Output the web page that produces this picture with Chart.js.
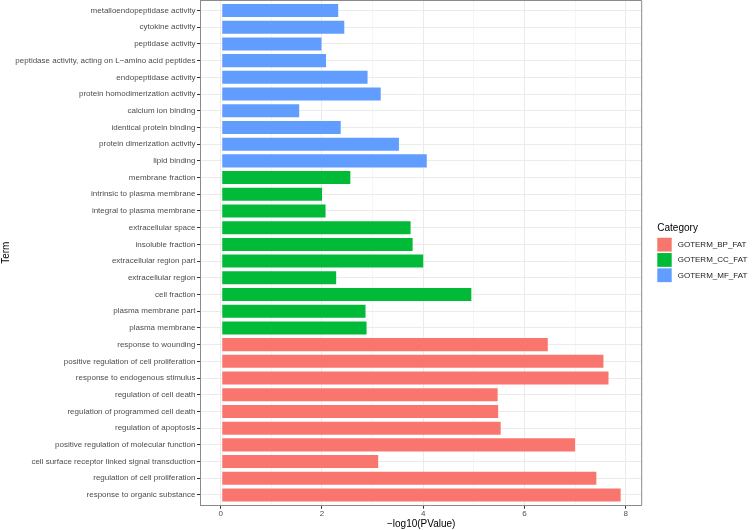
<!DOCTYPE html>
<html>
<head>
<meta charset="utf-8">
<script src="https://cdn.jsdelivr.net/npm/chart.js@4"></script>
<style>
  body { margin: 0; background: #fff; }
  #wrap { width: 753px; height: 530px; position: relative; }
</style>
</head>
<body>
<div id="wrap"><canvas id="goChart"></canvas></div>
<script>
"use strict";

// Terms, listed top to bottom as they appear on the plot
const terms = [
    'metalloendopeptidase activity',
    'cytokine activity',
    'peptidase activity',
    'peptidase activity, acting on L\u2212amino acid peptides',
    'endopeptidase activity',
    'protein homodimerization activity',
    'calcium ion binding',
    'identical protein binding',
    'protein dimerization activity',
    'lipid binding',
    'membrane fraction',
    'intrinsic to plasma membrane',
    'integral to plasma membrane',
    'extracellular space',
    'insoluble fraction',
    'extracellular region part',
    'extracellular region',
    'cell fraction',
    'plasma membrane part',
    'plasma membrane',
    'response to wounding',
    'positive regulation of cell proliferation',
    'response to endogenous stimulus',
    'regulation of cell death',
    'regulation of programmed cell death',
    'regulation of apoptosis',
    'positive regulation of molecular function',
    'cell surface receptor linked signal transduction',
    'regulation of cell proliferation',
    'response to organic substance'
];

// -log10(PValue) for each term
const pValues = [
    2.34, 2.46, 2.01, 2.10, 2.92, 3.18, 1.57, 2.39, 3.54, 4.09,
    2.58, 2.02, 2.09, 3.77, 3.81, 4.02, 2.30, 4.97, 2.88, 2.90,
    6.48, 7.58, 7.68, 5.49, 5.50, 5.55, 7.02, 3.13, 7.44, 7.92
];

// Category of each term
const termCategory = [
    'GOTERM_MF_FAT', 'GOTERM_MF_FAT', 'GOTERM_MF_FAT', 'GOTERM_MF_FAT', 'GOTERM_MF_FAT',
    'GOTERM_MF_FAT', 'GOTERM_MF_FAT', 'GOTERM_MF_FAT', 'GOTERM_MF_FAT', 'GOTERM_MF_FAT',
    'GOTERM_CC_FAT', 'GOTERM_CC_FAT', 'GOTERM_CC_FAT', 'GOTERM_CC_FAT', 'GOTERM_CC_FAT',
    'GOTERM_CC_FAT', 'GOTERM_CC_FAT', 'GOTERM_CC_FAT', 'GOTERM_CC_FAT', 'GOTERM_CC_FAT',
    'GOTERM_BP_FAT', 'GOTERM_BP_FAT', 'GOTERM_BP_FAT', 'GOTERM_BP_FAT', 'GOTERM_BP_FAT',
    'GOTERM_BP_FAT', 'GOTERM_BP_FAT', 'GOTERM_BP_FAT', 'GOTERM_BP_FAT', 'GOTERM_BP_FAT'
];

const categories = ['GOTERM_BP_FAT', 'GOTERM_CC_FAT', 'GOTERM_MF_FAT'];
const xTicks = [0, 1, 2, 3, 4, 5, 6, 7, 8];

// ggplot default hues
const categoryColors = {
    'GOTERM_BP_FAT': '#F8766D',
    'GOTERM_CC_FAT': '#00BA38',
    'GOTERM_MF_FAT': '#619CFF'
};

const fontFamily = '"Liberation Sans", Arial, Helvetica, sans-serif';
Chart.defaults.font.family = fontFamily;

// panel border on top/right plus the legend on the right
const panelAndLegend = {
    id: 'panelAndLegend',
    afterDraw: function (chart) {
        const ctx = chart.ctx;
        const area = chart.chartArea;
        ctx.save();
        ctx.strokeStyle = '#8a8a8a';
        ctx.lineWidth = 1;
        ctx.beginPath();
        ctx.moveTo(area.left, area.top);
        ctx.lineTo(area.right, area.top);
        ctx.lineTo(area.right, area.bottom);
        ctx.stroke();

        const x0 = area.right + 15.6;
        const midY = (area.top + area.bottom) / 2;
        ctx.fillStyle = '#000';
        ctx.font = '10px ' + fontFamily;
        ctx.textAlign = 'left';
        ctx.textBaseline = 'middle';
        ctx.fillText('Category', x0, midY - 25);

        ctx.font = '8px ' + fontFamily;
        for (var i = 0; i < categories.length; i++) {
            const top = midY - 15 + i * 15.3;
            ctx.fillStyle = categoryColors[categories[i]];
            ctx.fillRect(x0, top, 14.4, 13.8);
            ctx.fillStyle = '#1a1a1a';
            ctx.fillText(categories[i], x0 + 20.4, top + 7);
        }
        ctx.restore();
    }
};

const barData = pValues.map(function (v, i) { return { x: v, y: i }; });
const barColors = termCategory.map(function (c) { return categoryColors[c]; });

const config = {
    type: 'bar',
    data: {
        datasets: [
            {
                label: '-log10(PValue)',
                data: barData,
                backgroundColor: barColors,
                borderColor: 'rgba(255,255,255,0.25)',
                borderWidth: 1,
                borderSkipped: false,
                barPercentage: 0.9,
                categoryPercentage: 1
            }
        ]
    },
    options: {
        indexAxis: 'y',
        responsive: true,
        maintainAspectRatio: false,
        animation: false,
        layout: {
            padding: { top: 0.5, right: 111.3, bottom: 0, left: 0 }
        },
        plugins: {
            legend: { display: false },
            tooltip: { enabled: false }
        },
        scales: {
            x: {
                type: 'linear',
                min: -0.396,
                max: 8.316,
                afterBuildTicks: function (scale) {
                    scale.ticks = xTicks.map(function (v) { return { value: v }; });
                },
                afterFit: function (scale) {
                    scale.height = 25;
                    scale.paddingLeft = 0;
                    scale.paddingRight = 0;
                },
                ticks: {
                    autoSkip: false,
                    maxRotation: 0,
                    padding: 0.5,
                    color: '#4D4D4D',
                    font: { size: 8 },
                    callback: function (v) { return v % 2 === 0 ? String(v) : ''; }
                },
                grid: {
                    color: '#EBEBEB',
                    lineWidth: function (c) { return c.tick && c.tick.value % 2 !== 0 ? 0.5 : 1; },
                    tickColor: function (c) { return c.tick && c.tick.value % 2 !== 0 ? 'rgba(0,0,0,0)' : '#333333'; },
                    tickLength: 3.7
                },
                border: { display: true, color: '#8a8a8a', width: 1 },
                title: {
                    display: true,
                    text: '\u2212log10(PValue)',
                    color: '#000',
                    font: { size: 10 },
                    padding: { top: 0, bottom: 0 }
                }
            },
            y: {
                type: 'linear',
                reverse: true,
                offset: false,
                min: -0.6,
                max: terms.length - 1 + 0.6,
                afterBuildTicks: function (scale) {
                    scale.ticks = terms.map(function (t, i) { return { value: i }; });
                },
                afterFit: function (scale) {
                    scale.width = 200.7;
                    scale.paddingTop = 0;
                    scale.paddingBottom = 0;
                },
                ticks: {
                    autoSkip: false,
                    padding: 1.5,
                    color: '#4D4D4D',
                    font: { size: 8 },
                    callback: function (v) { return terms[v]; }
                },
                grid: {
                    offset: false,
                    color: '#EBEBEB',
                    lineWidth: 1,
                    tickColor: '#333333',
                    tickLength: 3.7
                },
                border: { display: true, color: '#8a8a8a', width: 1 },
                title: {
                    display: true,
                    text: 'Term',
                    color: '#000',
                    font: { size: 10 },
                    padding: { top: 0, bottom: 0 }
                }
            }
        }
    },
    plugins: [panelAndLegend]
};

var goChart = new Chart(document.getElementById('goChart'), config);
</script>
</body>
</html>
